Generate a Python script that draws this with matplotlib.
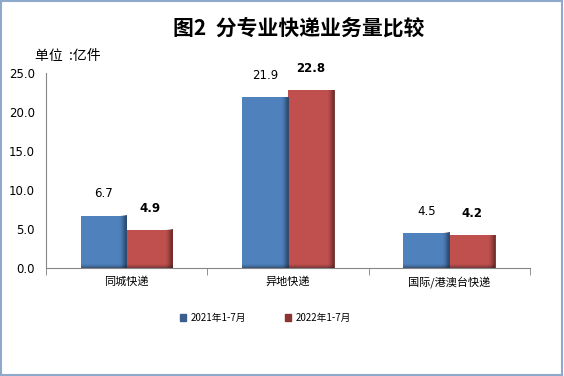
import matplotlib.pyplot as plt
import numpy as np
from matplotlib.patches import Rectangle, Patch
from matplotlib.colors import LinearSegmentedColormap

plt.rcParams['font.family'] = ['Noto Sans CJK SC', 'DejaVu Sans']

# 数据
categories = ["同城快递", "异地快递", "国际/港澳台快递"]
series_names = ["2021年1-7月", "2022年1-7月"]
v2021 = [6.7, 21.9, 4.5]
v2022 = [4.9, 22.8, 4.2]
yticks = [0, 5, 10, 15, 20, 25]

fig = plt.figure(figsize=(5.64, 3.76), dpi=100)
ax = fig.add_axes([0.0816, 0.2872, 0.858, 0.5187])

x = np.arange(len(categories))
w = 0.285
b1 = ax.bar(x - w / 2, v2021, w, color='#4F81BD')
b2 = ax.bar(x + w / 2, v2022, w, color='#C0504D')

# 柱子右侧和底部的阴影
for bars, dark in ((b1, '#2E4F78'), (b2, '#7A2E2C')):
    cm_side = LinearSegmentedColormap.from_list('g', [(0, 0, 0, 0), dark])
    cm_bot = LinearSegmentedColormap.from_list('g2', [(0, 0, 0, 0), (0.12, 0.12, 0.18, 0.45)])
    for r in bars:
        grad = np.linspace(0, 1, 30).reshape(1, -1) ** 3
        x0, x1 = r.get_x() + r.get_width() * 0.8, r.get_x() + r.get_width()
        ax.imshow(grad, extent=(x0, x1, 0, r.get_height()), aspect='auto',
                  cmap=cm_side, zorder=3)
        grad2 = np.linspace(0, 1, 10).reshape(-1, 1) ** 2
        ax.imshow(grad2, extent=(r.get_x(), x1, 0, 0.6), aspect='auto',
                  cmap=cm_bot, zorder=3)

for r, v in zip(b1, v2021):
    ax.annotate(f"{v:.1f}", (r.get_x() + r.get_width() / 2, v), xytext=(0, 11),
                textcoords='offset points', ha='center', va='bottom',
                fontsize=8.5, family='DejaVu Sans')
for r, v in zip(b2, v2022):
    ax.annotate(f"{v:.1f}", (r.get_x() + r.get_width() / 2, v), xytext=(0, 11),
                textcoords='offset points', ha='center', va='bottom',
                fontsize=8.5, fontweight='bold', family='DejaVu Sans')

ax.set_xlim(-0.5, 2.5)
ax.set_ylim(0, 25)
ax.set_yticks(yticks)
ax.set_yticklabels([f"{t:.1f}" for t in yticks], fontsize=8.5, family='DejaVu Sans')
ax.tick_params(axis='y', length=0, pad=8)
ax.set_xticks(x)
ax.set_xticklabels(categories, fontsize=8)
ax.tick_params(axis='x', length=0, pad=6)
ax.set_xticks([-0.5, 0.5, 1.5, 2.5], minor=True)
ax.tick_params(axis='x', which='minor', length=5, color='#808080', direction='out')
for s in ('top', 'right'):
    ax.spines[s].set_visible(False)
for s in ('left', 'bottom'):
    ax.spines[s].set_color('#868686')

fig.text(0.53, 0.925, "图2  分专业快递业务量比较", ha='center', va='center',
         fontsize=15, fontweight='bold')
fig.text(0.062, 0.852, "单位  :亿件", ha='left', va='center', fontsize=10)

handles = [Patch(color='#3B5E8C'), Patch(color='#8A3533')]
fig.legend(handles, series_names, loc='center', bbox_to_anchor=(0.47, 0.154),
           ncol=2, frameon=False, fontsize=7, handlelength=0.7, handleheight=0.7,
           handletextpad=0.4, columnspacing=4)

fig.add_artist(Rectangle((0.002, 0.003), 0.995, 0.994, transform=fig.transFigure,
                         fill=False, edgecolor='#8EA9CC', linewidth=1.5))

fig.savefig('out.png', dpi=100)
